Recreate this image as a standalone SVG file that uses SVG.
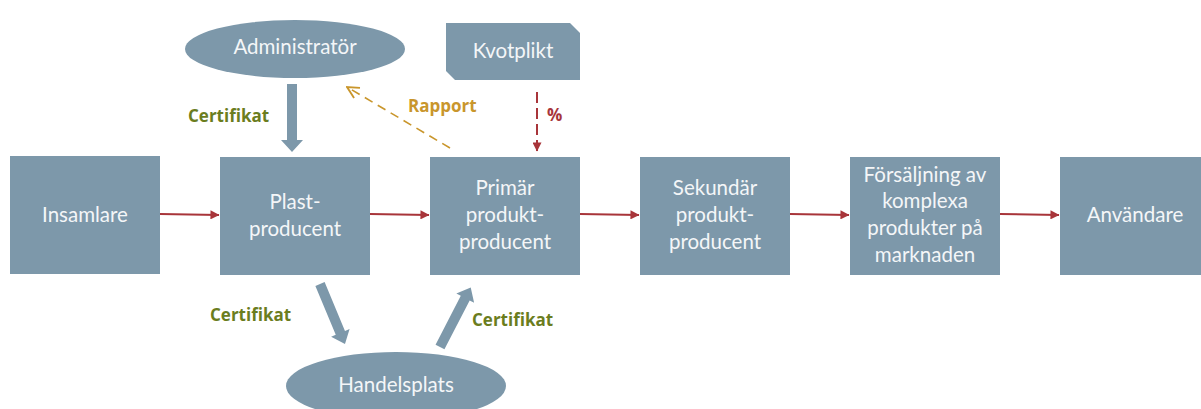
<svg xmlns="http://www.w3.org/2000/svg" width="1201" height="409" viewBox="0 0 1201 409">
  <defs>
    <style>
      .node { fill: #7d98aa; }
      .lbl { font-family: Lato, "Open Sans", sans-serif; font-size: 20.5px; fill: #f4f6f8; text-anchor: middle; }
      .flow { stroke: #a8353a; stroke-width: 2; fill: none; }
      .cert { font-family: "Open Sans", Lato, sans-serif; font-size: 17px; font-weight: bold; fill: #6b7d1e; }
      .block { fill: #7d98aa; }
    </style>
    <marker id="redHead" viewBox="0 0 10 10" refX="9.5" refY="5" markerWidth="10" markerHeight="9" markerUnits="userSpaceOnUse" orient="auto">
      <path d="M0,0 L10,5 L0,10 z" fill="#a8353a"/>
    </marker>
    <marker id="goldHead" viewBox="0 0 12 12" refX="11" refY="6" markerWidth="14" markerHeight="14" markerUnits="userSpaceOnUse" orient="auto">
      <path d="M1,1 L11,6 L1,11" fill="none" stroke="#c9962c" stroke-width="1.6"/>
    </marker>
  </defs>

  <!-- main chain -->
  <g id="insamlare">
    <rect class="node" x="10" y="156" width="150" height="118"/>
    <text class="lbl" x="85" y="222">Insamlare</text>
  </g>
  <g id="plastproducent">
    <rect class="node" x="220" y="157" width="150" height="118"/>
    <text class="lbl" x="295" y="209">Plast-</text>
    <text class="lbl" x="295" y="236">producent</text>
  </g>
  <g id="primar">
    <rect class="node" x="430" y="157" width="150" height="118"/>
    <text class="lbl" x="505" y="195">Primär</text>
    <text class="lbl" x="505" y="222">produkt-</text>
    <text class="lbl" x="505" y="249">producent</text>
  </g>
  <g id="sekundar">
    <rect class="node" x="640" y="157" width="150" height="118"/>
    <text class="lbl" x="715" y="195">Sekundär</text>
    <text class="lbl" x="715" y="222">produkt-</text>
    <text class="lbl" x="715" y="249">producent</text>
  </g>
  <g id="forsaljning">
    <rect class="node" x="850" y="157" width="150" height="118"/>
    <text class="lbl" x="925" y="182">Försäljning av</text>
    <text class="lbl" x="925" y="208">komplexa</text>
    <text class="lbl" x="925" y="235">produkter på</text>
    <text class="lbl" x="925" y="262">marknaden</text>
  </g>
  <g id="anvandare">
    <rect class="node" x="1060" y="157" width="145" height="118"/>
    <text class="lbl" x="1135" y="222">Användare</text>
  </g>

  <!-- upper nodes -->
  <g id="administrator">
    <ellipse class="node" cx="295" cy="49" rx="110" ry="29"/>
    <text class="lbl" x="295" y="54">Administratör</text>
  </g>
  <g id="kvotplikt">
    <polygon class="node" points="446,23 570,23 580,33 580,80 455,80 446,71"/>
    <text class="lbl" x="513" y="58">Kvotplikt</text>
  </g>

  <!-- lower node -->
  <g id="handelsplats">
    <ellipse class="node" cx="396" cy="386" rx="110" ry="34"/>
    <text class="lbl" x="396" y="392">Handelsplats</text>
  </g>

  <!-- connectors -->
  <g id="connectors">
    <line class="flow" x1="160" y1="214" x2="219" y2="215" marker-end="url(#redHead)"/>
    <line class="flow" x1="370" y1="214" x2="429" y2="215" marker-end="url(#redHead)"/>
    <line class="flow" x1="580" y1="214" x2="639" y2="215" marker-end="url(#redHead)"/>
    <line class="flow" x1="790" y1="214" x2="849" y2="215" marker-end="url(#redHead)"/>
    <line class="flow" x1="1000" y1="214" x2="1059" y2="215" marker-end="url(#redHead)"/>

    <!-- quota flow into primary producer -->
    <line class="flow" x1="537" y1="92" x2="537" y2="151" stroke-dasharray="11,5" marker-end="url(#redHead)"/>

    <!-- report back to administrator -->
    <line x1="450" y1="148" x2="347" y2="87" stroke="#c9962c" stroke-width="1.6" stroke-dasharray="9,6" marker-end="url(#goldHead)"/>

    <!-- certificate block arrows -->
    <polygon class="block" points="287,84 297,84 297,140 303,140 292,152 281,140 287,140"/>
    <polygon class="block" transform="translate(320,284) rotate(67.4)" points="0,-5 53,-5 53,-10 65,0 53,10 53,5 0,5"/>
    <polygon class="block" transform="translate(440,347) rotate(-62.7)" points="0,-5 55,-5 55,-10 67,0 55,10 55,5 0,5"/>
  </g>

  <!-- edge labels -->
  <text class="cert" x="188" y="122">Certifikat</text>
  <text class="cert" x="210" y="321">Certifikat</text>
  <text class="cert" x="472" y="326">Certifikat</text>
  <text x="408" y="112" font-family="'Open Sans', Lato, sans-serif" font-size="17" font-weight="bold" fill="#c9962c">Rapport</text>
  <text x="547" y="121" font-family="'Open Sans', Lato, sans-serif" font-size="17" font-weight="bold" fill="#a8353a">%</text>
</svg>
